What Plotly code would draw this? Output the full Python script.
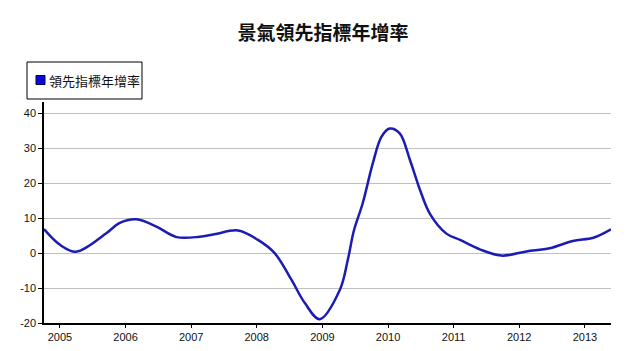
import plotly.graph_objects as go

title_text = "景氣領先指標年增率"
series_name = "領先指標年增率"

dates = ["2004-10-04", "2005-01-01", "2005-04-01", "2005-09-16", "2005-11-27",
         "2006-03-03", "2006-06-22", "2006-10-12", "2007-02-17", "2007-05-10",
         "2007-09-19", "2008-01-08", "2008-04-10", "2008-07-12", "2008-09-25",
         "2008-12-17", "2009-04-08", "2009-05-22", "2009-06-25", "2009-08-13",
         "2009-10-08", "2009-11-25", "2010-01-10", "2010-03-07", "2010-05-03",
         "2010-06-28", "2010-08-23", "2010-11-22", "2011-02-06",
         "2011-05-27", "2011-09-24", "2012-02-10", "2012-06-19", "2012-10-26",
         "2013-02-17", "2013-05-26"]
values = [6.9, 2.4, 0.4, 5.7, 8.6,
          9.7, 7.6, 4.6, 4.7, 5.4,
          6.5, 3.8, 0.0, -7.6, -14.3,
          -18.9, -10.5, -1.9, 6.5, 14.3,
          25.7, 33.3, 35.7, 34.3, 26.7,
          18.1, 11.2, 5.6, 3.8,
          1.1, -0.7, 0.5, 1.4, 3.5,
          4.4, 6.8]

y_ticks = [-20, -10, 0, 10, 20, 30, 40]
y_tick_labels = ["-20", "-10", "0", "10", "20", "30", "40"]

line_color = "#1c1cb4"

fig = go.Figure()
fig.add_trace(go.Scatter(
    x=dates, y=values, mode="lines", name=series_name, showlegend=False,
    line=dict(color=line_color, width=2.5, shape="spline", smoothing=1.0),
))

# legend box drawn in paper coordinates (outside plot area)
W, H = 629, 351
L, R, T, B = 44, 18, 102, 28
pw, ph = W - L - R, H - T - B


def px_to_paper_x(px):
    return (px - L) / pw


def py_to_paper_y(py):
    return (H - B - py) / ph


fig.add_shape(type="rect", xref="paper", yref="paper",
              x0=px_to_paper_x(27), x1=px_to_paper_x(142),
              y0=py_to_paper_y(99), y1=py_to_paper_y(62),
              line=dict(color="black", width=1), fillcolor="white", layer="above")
fig.add_shape(type="rect", xref="paper", yref="paper",
              x0=px_to_paper_x(36), x1=px_to_paper_x(45),
              y0=py_to_paper_y(84.5), y1=py_to_paper_y(75.5),
              line=dict(color="#000050", width=1), fillcolor="#0a0ad8", layer="above")
fig.add_annotation(xref="paper", yref="paper",
                   x=px_to_paper_x(47), y=py_to_paper_y(80.5),
                   xanchor="left", yanchor="middle", showarrow=False,
                   text=series_name,
                   font=dict(family="Noto Sans CJK TC", size=13, color="#111111"))

fig.update_layout(
    width=W, height=H,
    margin=dict(l=L, r=R, t=T, b=B, autoexpand=False),
    paper_bgcolor="white", plot_bgcolor="white",
    showlegend=False,
    title=dict(text="<b>" + title_text + "</b>", x=323 / W, xanchor="center",
               y=1 - 33 / H, yanchor="middle",
               font=dict(family="Noto Sans CJK TC", size=19, color="#111111")),
    font=dict(family="Liberation Sans, Arial", size=11, color="#111111"),
)
fig.update_xaxes(
    type="date", range=["2004-10-04", "2013-05-26"],
    tickformat="%Y", dtick="M12", tick0="2005-01-01",
    showgrid=False, showline=True, linecolor="black", linewidth=1.5,
    ticks="outside", ticklen=3, tickcolor="black", zeroline=False,
)
fig.update_yaxes(
    range=[-20, 43.3], tickvals=y_ticks, ticktext=y_tick_labels,
    showgrid=True, gridcolor="#c0c0c0", gridwidth=1,
    showline=True, linecolor="black", linewidth=1.5,
    ticks="outside", ticklen=4, tickcolor="black", zeroline=False,
)

fig.write_html("out.html")
